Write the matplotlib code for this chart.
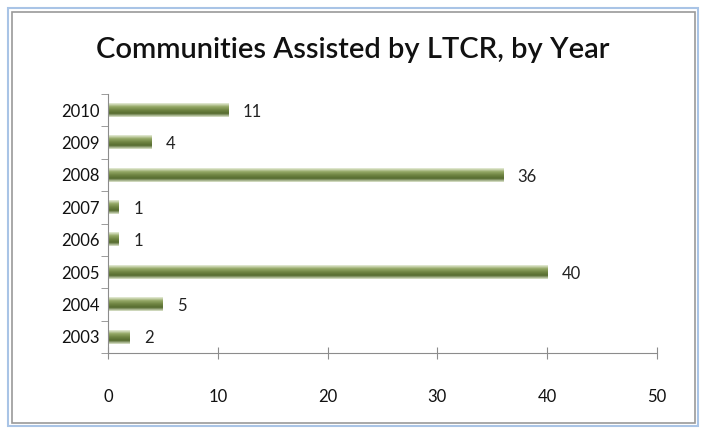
import numpy as np
import matplotlib.pyplot as plt
from matplotlib.colors import LinearSegmentedColormap
from matplotlib.patches import Rectangle

years = ["2003", "2004", "2005", "2006", "2007", "2008", "2009", "2010"]
counts = [2, 5, 40, 1, 1, 36, 4, 11]
xticks = [0, 10, 20, 30, 40, 50]

plt.rcParams['font.family'] = ['Lato', 'DejaVu Sans']

fig = plt.figure(figsize=(7.05, 4.32), dpi=100)
fig.patch.set_facecolor("white")

# outer frame like the screenshot
fig.add_artist(Rectangle((8 / 705, 1 - 426 / 432), 690 / 705, 418 / 432,
                         transform=fig.transFigure, fill=False,
                         edgecolor="#a9c4e6", lw=1.5))
fig.add_artist(Rectangle((12 / 705, 1 - 423 / 432), 683 / 705, 411 / 432,
                         transform=fig.transFigure, fill=False,
                         edgecolor="#9a9a9a", lw=1.2))

ax = fig.add_axes([108 / 705, 1 - 353 / 432, 549 / 705, 259 / 432])

cmap = LinearSegmentedColormap.from_list(
    "bar", ["#dfe6cf", "#556b2f", "#6f8442", "#95a967", "#e8eedb"])
grad = np.linspace(0, 1, 64).reshape(-1, 1)

h = 0.42
for i, v in enumerate(counts):
    ax.imshow(grad, cmap=cmap, aspect="auto", interpolation="bilinear",
              extent=[0, v, i + h / 2, i - h / 2], zorder=2)
    ax.text(v + 1.3, i - 0.05, str(v), va="center", ha="left",
            fontsize=12, color="#222222")

ax.set_xlim(0, 50)
ax.set_ylim(-0.5, len(years) - 0.5)
ax.set_xticks(xticks)
ax.set_xticklabels([str(t) for t in xticks], fontsize=12, color="#111111")
ax.set_yticks(np.arange(len(years)))
ax.set_yticklabels(years, fontsize=12, color="#111111")
ax.set_yticks(np.arange(len(years) + 1) - 0.5, minor=True)

for s in ["top", "right"]:
    ax.spines[s].set_visible(False)
ax.spines["left"].set_color("#8c8c8c")
ax.spines["bottom"].set_color("#8c8c8c")

ax.tick_params(axis="y", which="major", length=0, pad=6)
ax.tick_params(axis="y", which="minor", length=5, color="#8c8c8c")
ax.tick_params(axis="x", length=5, direction="in", color="#8c8c8c", pad=22)
ax.xaxis.set_tick_params(which="major", direction="inout", length=8)

fig.text(0.5, 1 - 50 / 432, "Communities Assisted by LTCR, by Year",
         ha="center", va="center", fontsize=21, fontweight="semibold",
         color="#111111")

fig.savefig("out.png", dpi=100)
